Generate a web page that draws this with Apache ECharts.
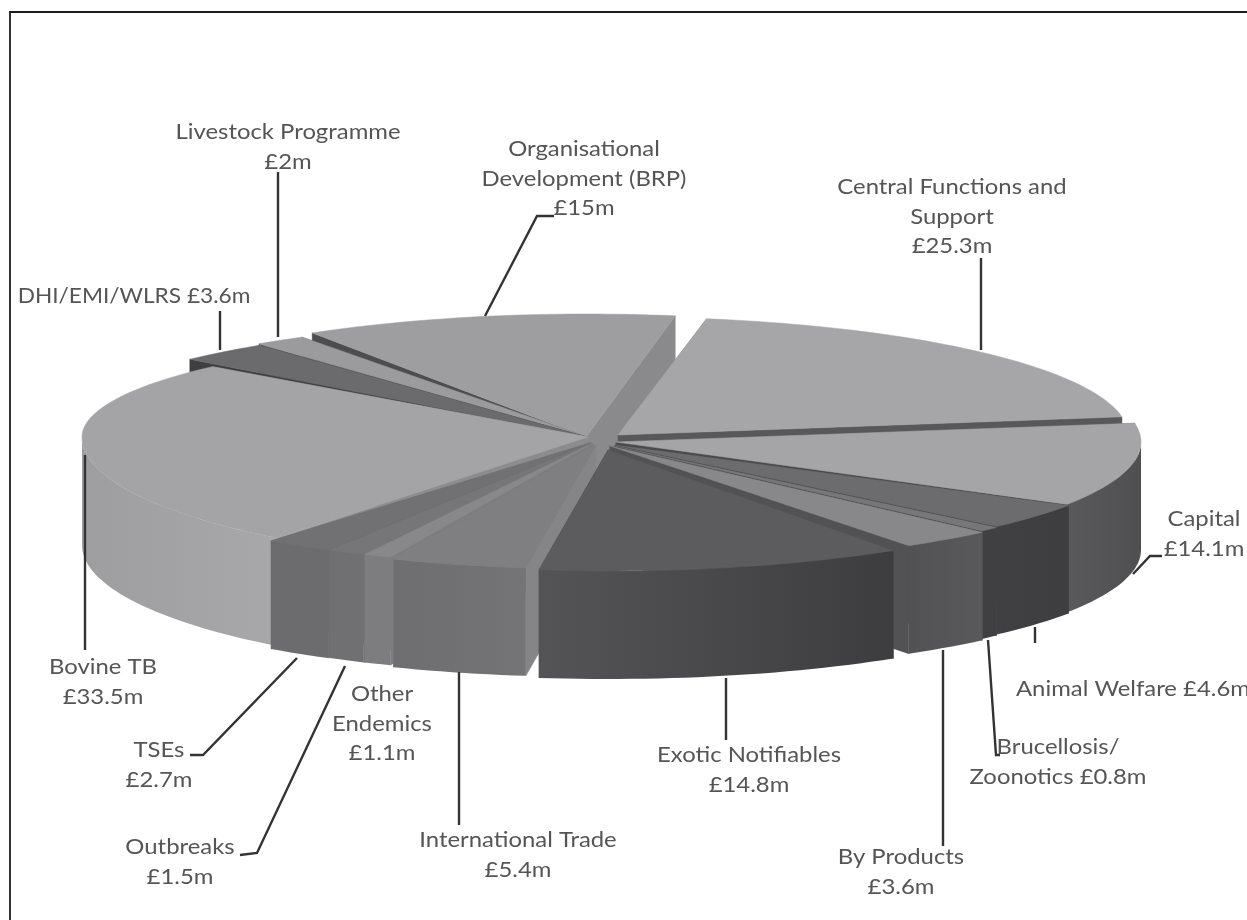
<!DOCTYPE html>
<html><head><meta charset="utf-8">
<style>html,body{margin:0;padding:0;background:#fff}#c{width:1247px;height:920px;filter:blur(0.6px)}</style>
<script src="https://cdn.jsdelivr.net/npm/echarts@6/dist/echarts.min.js"></script>
</head><body><div id="c"></div>
<script>
// ---- data (clockwise from the start angle) ----
const categories = ['Central Functions and\nSupport','Capital','Animal Welfare','Brucellosis/\nZoonotics','By Products','Exotic Notifiables','International Trade','Other\nEndemics','Outbreaks','TSEs','Bovine TB','DHI/EMI/WLRS','Livestock Programme','Organisational\nDevelopment (BRP)'];
const values = [25.3,14.1,4.6,0.8,3.6,14.8,5.4,1.1,1.5,2.7,33.5,3.6,2,15];
const inlineValue = [0,0,1,1,0,0,0,0,0,0,0,1,0,0];

// ---- layout and styling ----
const START = 10, DEPTH = 108;
// ax, ay: slice apex; rx, ryB, ryF: radii (back/front half, mimics the perspective)
const geom = [
 [618,435,510,118,122],[616,442,525,122,122],[615,445,528,118,118],[615,446,528,118,118],
 [610,446,536,120,120],[608,450,512,122,121],[596,445,520,124,124],[593,443,520,124,124],
 [592,443,520,124,124],[590,443,520,124,124],[588,437,506,105,128],[587,437,535,116,116],
 [587,437,535,118,118],[586,437,514,123,123]];
// top, wall left, wall right, start-edge face, end-edge face
const paint = [
 ['#a6a6a8','#5e5e60','#5e5e60','#8a8a8c','#58585a'],
 ['#a5a5a7','#5a5a5c','#4f4f51','#6a6a6c','#4a4a4c'],
 ['#6c6c6e','#404042','#3e3e40','#404042','#404042'],
 ['#77777a','#404042','#404042','#404042','#404042'],
 ['#88888a','#525254','#59595b','#555557','#525254'],
 ['#5c5c5e','#545456','#3d3d3f','#49494b','#49494b'],
 ['#7f7f81','#6e6e70','#747476','#858587','#858587'],
 ['#88888a','#7d7d7f','#7d7d7f','#7d7d7f','#7d7d7f'],
 ['#767678','#707072','#707072','#707072','#707072'],
 ['#717173','#6c6c6e','#6c6c6e','#6c6c6e','#6c6c6e'],
 ['#a4a4a6','#9e9ea0','#a8a8aa','#8c8c8e','#8c8c8e'],
 ['#6b6b6d','#555557','#555557','#3f3f41','#3f3f41'],
 ['#9b9b9d','#777779','#777779','#666668','#666668'],
 ['#9e9ea0','#8a8a8c','#8a8a8c','#4d4d4f','#8a8a8c']];
const drawOrder = [13,12,11,0,10,1,2,3,4,9,8,7,6,5];
const labelPos = [[952,187],[1204,519],[1016,689],[1058,747],[901,857],[749,755],[518,840],[382,694],[180,847],[159,750],[103,667],[134,296],[288,132],[584,149]];
const labelAlign = {2:'left'};
const TEXT_STRETCH = 1.085;
const labelStretch = {11:1.03};
const leaders = [
 [[981,258],[981,350]],
 [[1162,556],[1150,556],[1133,574]],
 [[1035,627],[1035,643]],
 [[988,640],[996,755],[1000,755]],
 [[943,650],[943,846]],
 [[726,678],[726,740]],
 [[459,672],[459,825]],
 [],
 [[345,666],[257,853],[240,855]],
 [[297,658],[203,755],[190,755]],
 [[85,455],[85,650]],
 [[220,311],[220,350]],
 [[278,172],[278,337]],
 [[554,216],[537,216],[485,316]]];

const total = values.reduce((a,b)=>a+b,0);
const angles = []; { let a = START; values.forEach(v=>{ angles.push([a, a+v/total*360]); a += v/total*360; }); }

function pt(i,deg){
  const [ax,ay,rx,ryB,ryF]=geom[i], r=deg*Math.PI/180, c=Math.cos(r);
  return [ax+rx*Math.sin(r), ay-(c>0?ryB:ryF)*c];
}
function arc(i,a,b){ const n=Math.max(2,Math.ceil(Math.abs(b-a)/1.5)), out=[]; for(let k=0;k<=n;k++) out.push(pt(i,a+(b-a)*k/n)); return out; }
function down(p){ return [p[0],p[1]+DEPTH]; }
function poly(points,fill,z){ return {type:'polygon',z2:z,shape:{points},style:{fill,stroke:fill,lineWidth:0.5}}; }

function drawSlice(i,z){
  const [a,b]=angles[i], g=geom[i], apex=[g[0],g[1]], p=paint[i], kids=[];
  const A=pt(i,a), B=pt(i,b);
  kids.push(poly([apex,A,down(A),down(apex)],p[3],z));
  kids.push(poly([apex,B,down(B),down(apex)],p[4],z));
  const wa=Math.max(a,90), wb=Math.min(b,270);
  if(wb>wa){
    const t=arc(i,wa,wb), pts=t.concat(t.slice().reverse().map(down));
    const x0=t[0][0], x1=t[t.length-1][0];
    kids.push({type:'polygon',z2:z+1,shape:{points:pts},style:{stroke:null,fill:new echarts.graphic.LinearGradient(x1,0,x0,0,[{offset:0,color:p[1]},{offset:1,color:p[2]}],true)}});
  }
  kids.push(poly([apex].concat(arc(i,a,b)),p[0],z+2));
  return kids;
}

const option = {
  animation:false,
  backgroundColor:'#fff',
  graphic:[{type:'polyline',silent:true,z:20,shape:{points:[[10,920],[10,12],[1247,12]]},style:{stroke:'#1c1c1c',lineWidth:1.8,fill:null}}],
  series:[{
    type:'custom',coordinateSystem:'none',silent:true,clip:false,
    data:drawOrder.map(i=>[i]),
    renderItem(params,api){
      const i=api.value(0), z=params.dataIndex*3+1;
      return {type:'group',children:drawSlice(i,z)};
    }
  },{
    type:'custom',coordinateSystem:'none',silent:true,clip:false,z:10,
    data:categories.map((c,i)=>[i]),
    renderItem(params,api){
      const i=api.value(0), kids=[];
      if(leaders[i].length) kids.push({type:'polyline',shape:{points:leaders[i]},style:{stroke:'#333',lineWidth:2.4,fill:null}});
      const lines=categories[i].split('\n'), val='£'+values[i]+'m';
      if(inlineValue[i]) lines[lines.length-1]+=' '+val; else lines.push(val);
      const [x,y]=labelPos[i], align=labelAlign[i]||'center';
      lines.forEach((t,k)=>kids.push({type:'text',x,y:y+k*29.5,scaleX:labelStretch[i]||TEXT_STRETCH,style:{x:0,y:0,text:t,align,verticalAlign:'middle',font:'22px Lato, "Open Sans", sans-serif',fill:'#555'}}));
      return {type:'group',children:kids};
    }
  }]
};
echarts.init(document.getElementById('c'),null,{renderer:'canvas'}).setOption(option);
</script></body></html>
